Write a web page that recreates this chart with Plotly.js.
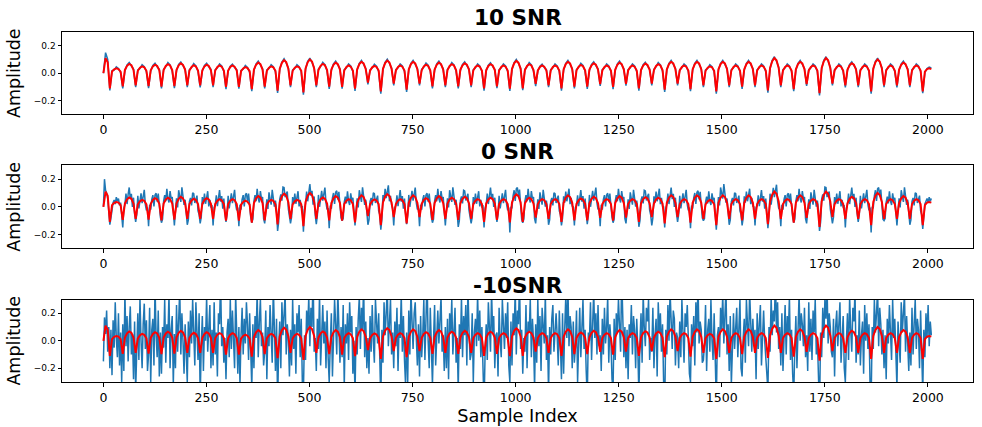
<!DOCTYPE html>
<html>
<head>
<meta charset="utf-8">
<script src="https://cdn.plot.ly/plotly-3.0.1.min.js"></script>
<style>html,body{margin:0;padding:0;background:#fff;}#chart{width:982px;height:427px;}</style>
</head>
<body>
<div id="chart"></div>
<script>
// ---- data ----
const panelTitles = ['10 SNR', '0 SNR', '-10SNR'];
const xTickValues = [0, 250, 500, 750, 1000, 1250, 1500, 1750, 2000];
const yTickValues = [-0.2, 0.0, 0.2];
const cyclePeriod = 31.3;            // samples per cycle of the clean signal
const coarseStep = cyclePeriod / 6;  // sample step of the coarse series
const fineStep = cyclePeriod / 12;   // sample step of the fine series

// clean signal (red), one value every coarseStep samples
const cleanSignal = [
0.0,0.11,0.08,
-0.11,0.012,0.028,0.035,0.03,0.012,
-0.095,0.024,0.054,0.068,0.058,0.024,
-0.088,0.018,0.04,0.05,0.043,0.018,
-0.093,0.022,0.05,0.062,0.053,0.022,
-0.098,0.023,0.053,0.066,0.056,0.023,
-0.093,0.025,0.058,0.072,0.061,0.025,
-0.088,0.02,0.046,0.058,0.049,0.02,
-0.088,0.022,0.05,0.062,0.053,0.022,
-0.088,0.02,0.045,0.056,0.048,0.02,
-0.1,0.02,0.045,0.056,0.048,0.02,
-0.1,0.015,0.035,0.044,0.037,0.015,
-0.115,0.027,0.062,0.078,0.066,0.027,
-0.098,0.018,0.04,0.05,0.043,0.018,
-0.127,0.033,0.076,0.095,0.081,0.033,
-0.088,0.018,0.04,0.05,0.043,0.018,
-0.14,0.035,0.08,0.1,0.085,0.035,
-0.088,0.024,0.054,0.068,0.058,0.024,
-0.098,0.027,0.062,0.078,0.066,0.027,
-0.1,0.02,0.045,0.056,0.048,0.02,
-0.112,0.029,0.066,0.083,0.071,0.029,
-0.068,0.019,0.043,0.054,0.046,0.019,
-0.132,0.032,0.074,0.092,0.078,0.032,
-0.075,0.02,0.045,0.056,0.048,0.02,
-0.12,0.029,0.066,0.083,0.071,0.029,
-0.075,0.022,0.05,0.062,0.053,0.022,
-0.095,0.027,0.062,0.078,0.066,0.027,
-0.088,0.023,0.053,0.066,0.056,0.023,
-0.095,0.026,0.058,0.073,0.062,0.026,
-0.088,0.02,0.045,0.056,0.048,0.02,
-0.11,0.023,0.053,0.066,0.056,0.023,
-0.095,0.02,0.045,0.056,0.048,0.02,
-0.112,0.032,0.072,0.09,0.077,0.032,
-0.11,0.023,0.053,0.066,0.056,0.023,
-0.078,0.02,0.045,0.056,0.048,0.02,
-0.088,0.02,0.045,0.056,0.048,0.02,
-0.11,0.029,0.066,0.083,0.071,0.029,
-0.098,0.021,0.048,0.06,0.051,0.021,
-0.098,0.026,0.058,0.073,0.062,0.026,
-0.08,0.02,0.045,0.056,0.048,0.02,
-0.1,0.027,0.062,0.078,0.066,0.027,
-0.078,0.02,0.045,0.056,0.048,0.02,
-0.11,0.025,0.056,0.07,0.06,0.025,
-0.075,0.023,0.053,0.066,0.056,0.023,
-0.12,0.029,0.066,0.083,0.071,0.029,
-0.075,0.02,0.045,0.056,0.048,0.02,
-0.115,0.029,0.066,0.083,0.071,0.029,
-0.088,0.018,0.04,0.05,0.043,0.018,
-0.132,0.029,0.066,0.083,0.071,0.029,
-0.088,0.02,0.045,0.056,0.048,0.02,
-0.098,0.029,0.066,0.083,0.071,0.029,
-0.088,0.02,0.045,0.056,0.048,0.02,
-0.125,0.039,0.088,0.11,0.094,0.039,
-0.088,0.02,0.045,0.056,0.048,0.02,
-0.115,0.029,0.066,0.083,0.071,0.029,
-0.08,0.02,0.045,0.056,0.048,0.02,
-0.145,0.039,0.088,0.11,0.094,0.039,
-0.075,0.02,0.045,0.056,0.048,0.02,
-0.088,0.026,0.058,0.073,0.062,0.026,
-0.088,0.02,0.045,0.056,0.048,0.02,
-0.132,0.035,0.08,0.1,0.085,0.035,
-0.088,0.02,0.045,0.056,0.048,0.02,
-0.088,0.027,0.062,0.078,0.066,0.027,
-0.088,0.02,0.045,0.056,0.048,0.02,
-0.132,0.012,0.03,0.035,0.03
];

// noisy signal at 10 SNR (blue, top), one value every coarseStep samples
const noisy10 = [
0.0,0.15,0.1,
-0.125,0.018,0.023,0.047,0.035,0.005,
-0.111,0.018,0.06,0.078,0.052,0.03,
-0.101,0.024,0.035,0.062,0.048,0.011,
-0.109,0.016,0.056,0.072,0.047,0.028,
-0.111,0.029,0.048,0.078,0.061,0.016,
-0.109,0.019,0.064,0.082,0.055,0.031,
-0.101,0.026,0.041,0.07,0.054,0.013,
-0.104,0.016,0.056,0.072,0.047,0.028,
-0.101,0.026,0.04,0.068,0.053,0.013,
-0.116,0.014,0.051,0.066,0.042,0.026,
-0.113,0.021,0.03,0.056,0.042,0.008,
-0.131,0.021,0.068,0.088,0.06,0.033,
-0.111,0.024,0.035,0.062,0.048,0.011,
-0.143,0.027,0.082,0.105,0.075,0.039,
-0.101,0.024,0.035,0.062,0.048,0.011,
-0.156,0.029,0.086,0.11,0.079,0.041,
-0.101,0.03,0.049,0.08,0.063,0.017,
-0.114,0.021,0.068,0.088,0.06,0.033,
-0.113,0.026,0.04,0.068,0.053,0.013,
-0.128,0.023,0.072,0.093,0.065,0.035,
-0.081,0.025,0.038,0.066,0.051,0.012,
-0.148,0.026,0.08,0.102,0.072,0.038,
-0.088,0.026,0.04,0.068,0.053,0.013,
-0.136,0.023,0.072,0.093,0.065,0.035,
-0.088,0.028,0.045,0.074,0.058,0.015,
-0.111,0.021,0.068,0.088,0.06,0.033,
-0.101,0.029,0.048,0.078,0.061,0.016,
-0.111,0.02,0.064,0.083,0.056,0.032,
-0.101,0.026,0.04,0.068,0.053,0.013,
-0.126,0.017,0.059,0.076,0.05,0.029,
-0.108,0.026,0.04,0.068,0.053,0.013,
-0.128,0.026,0.078,0.1,0.071,0.038,
-0.123,0.029,0.048,0.078,0.061,0.016,
-0.094,0.014,0.051,0.066,0.042,0.026,
-0.101,0.026,0.04,0.068,0.053,0.013,
-0.126,0.023,0.072,0.093,0.065,0.035,
-0.111,0.027,0.043,0.072,0.056,0.014,
-0.114,0.02,0.064,0.083,0.056,0.032,
-0.093,0.026,0.04,0.068,0.053,0.013,
-0.116,0.021,0.068,0.088,0.06,0.033,
-0.091,0.026,0.04,0.068,0.053,0.013,
-0.126,0.019,0.062,0.08,0.054,0.031,
-0.088,0.029,0.048,0.078,0.061,0.016,
-0.136,0.023,0.072,0.093,0.065,0.035,
-0.088,0.026,0.04,0.068,0.053,0.013,
-0.131,0.023,0.072,0.093,0.065,0.035,
-0.101,0.024,0.035,0.062,0.048,0.011,
-0.148,0.023,0.072,0.093,0.065,0.035,
-0.101,0.026,0.04,0.068,0.053,0.013,
-0.114,0.023,0.072,0.093,0.065,0.035,
-0.101,0.026,0.04,0.068,0.053,0.013,
-0.141,0.033,0.094,0.12,0.088,0.045,
-0.101,0.026,0.04,0.068,0.053,0.013,
-0.131,0.023,0.072,0.093,0.065,0.035,
-0.093,0.026,0.04,0.068,0.053,0.013,
-0.161,0.033,0.094,0.12,0.088,0.045,
-0.088,0.026,0.04,0.068,0.053,0.013,
-0.104,0.02,0.064,0.083,0.056,0.032,
-0.101,0.026,0.04,0.068,0.053,0.013,
-0.148,0.029,0.086,0.11,0.079,0.041,
-0.101,0.026,0.04,0.068,0.053,0.013,
-0.104,0.021,0.068,0.088,0.06,0.033,
-0.101,0.026,0.04,0.068,0.053,0.013,
-0.145,0.006,0.034,0.045,0.038
];

// noisy signal at 0 SNR (blue, middle), one value every fineStep samples
const noisy0 = [
0.0,0.2,0.12,0.1,0.06,-0.04,
-0.13,-0.08,0.0,0.03,0.05,0.02,0.07,0.04,0.06,0.01,0.03,-0.06,
-0.15,-0.01,0.016,0.095,0.02,0.09,0.14,0.056,0.094,-0.001,0.066,-0.05,
-0.11,-0.055,0.08,-0.011,0.06,0.097,0.026,0.073,0.123,0.016,-0.025,-0.005,
-0.14,0.015,-0.02,0.054,0.085,0.002,0.086,0.098,0.038,0.096,-0.01,-0.075,
-0.115,-0.09,0.041,0.085,0.04,0.13,0.06,0.031,0.114,0.059,0.071,-0.085,
-0.135,-0.03,0.061,-0.005,0.12,0.075,0.035,0.141,0.084,0.014,0.051,-0.025,
-0.13,-0.095,0.04,0.064,0.01,0.102,0.096,0.028,0.058,0.081,-0.03,-0.055,
-0.12,-0.075,0.07,0.019,0.095,0.022,0.066,0.113,0.003,0.051,0.0,0.005,
-0.135,-0.005,0.01,0.084,0.005,0.072,0.121,0.038,0.078,-0.014,0.06,-0.045,
-0.11,-0.055,0.08,-0.011,0.06,0.097,0.026,0.073,0.123,0.016,-0.025,-0.005,
-0.14,0.015,-0.02,0.054,0.085,0.002,0.086,0.098,0.038,0.096,-0.01,-0.075,
-0.115,-0.09,0.041,0.085,0.04,0.13,0.06,0.031,0.114,0.059,0.071,-0.085,
-0.12,-0.025,0.055,-0.016,0.105,0.057,0.016,0.123,0.068,0.001,0.045,-0.02,
-0.175,-0.11,0.055,0.09,0.045,0.143,0.14,0.07,0.095,0.11,-0.015,-0.07,
-0.12,-0.075,0.07,0.019,0.095,0.022,0.066,0.113,0.003,0.051,0.0,0.005,
-0.18,-0.02,0.025,0.11,0.04,0.113,0.165,0.08,0.115,0.015,0.075,-0.06,
-0.125,-0.06,0.086,0.0,0.075,0.115,0.045,0.091,0.139,0.029,-0.019,-0.01,
-0.155,0.01,-0.014,0.065,0.1,0.02,0.105,0.116,0.054,0.109,-0.004,-0.08,
-0.1,-0.085,0.035,0.074,0.025,0.112,0.041,0.013,0.098,0.046,0.065,-0.08,
-0.135,-0.03,0.061,-0.005,0.12,0.075,0.035,0.141,0.084,0.014,0.051,-0.025,
-0.13,-0.095,0.04,0.064,0.01,0.102,0.096,0.028,0.058,0.081,-0.03,-0.055,
-0.165,-0.09,0.085,0.045,0.13,0.063,0.11,0.155,0.04,0.08,0.015,-0.01,
-0.135,-0.005,0.01,0.084,0.005,0.072,0.121,0.038,0.078,-0.014,0.06,-0.045,
-0.125,-0.06,0.086,0.0,0.075,0.115,0.045,0.091,0.139,0.029,-0.019,-0.01,
-0.14,0.015,-0.02,0.054,0.085,0.002,0.086,0.098,0.038,0.096,-0.01,-0.075,
-0.115,-0.09,0.041,0.085,0.04,0.13,0.06,0.031,0.114,0.059,0.071,-0.085,
-0.135,-0.03,0.061,-0.005,0.12,0.075,0.035,0.141,0.084,0.014,0.051,-0.025,
-0.145,-0.1,0.046,0.075,0.025,0.12,0.115,0.046,0.074,0.094,-0.024,-0.06,
-0.12,-0.075,0.07,0.019,0.095,0.022,0.066,0.113,0.003,0.051,0.0,0.005,
-0.15,-0.01,0.016,0.095,0.02,0.09,0.14,0.056,0.094,-0.001,0.066,-0.05,
-0.11,-0.055,0.08,-0.011,0.06,0.097,0.026,0.073,0.123,0.016,-0.025,-0.005,
-0.185,0.0,-0.005,0.08,0.12,0.043,0.13,0.14,0.075,0.125,0.005,-0.09,
-0.115,-0.09,0.041,0.085,0.04,0.13,0.06,0.031,0.114,0.059,0.071,-0.085,
-0.12,-0.025,0.055,-0.016,0.105,0.057,0.016,0.123,0.068,0.001,0.045,-0.02,
-0.13,-0.095,0.04,0.064,0.01,0.102,0.096,0.028,0.058,0.081,-0.03,-0.055,
-0.135,-0.08,0.076,0.03,0.11,0.04,0.085,0.131,0.019,0.064,0.006,0.0,
-0.135,-0.005,0.01,0.084,0.005,0.072,0.121,0.038,0.078,-0.014,0.06,-0.045,
-0.125,-0.06,0.086,0.0,0.075,0.115,0.045,0.091,0.139,0.029,-0.019,-0.01,
-0.14,0.015,-0.02,0.054,0.085,0.002,0.086,0.098,0.038,0.096,-0.01,-0.075,
-0.115,-0.09,0.041,0.085,0.04,0.13,0.06,0.031,0.114,0.059,0.071,-0.085,
-0.12,-0.025,0.055,-0.016,0.105,0.057,0.016,0.123,0.068,0.001,0.045,-0.02,
-0.145,-0.1,0.046,0.075,0.025,0.12,0.115,0.046,0.074,0.094,-0.024,-0.06,
-0.135,-0.08,0.076,0.03,0.11,0.04,0.085,0.131,0.019,0.064,0.006,0.0,
-0.15,-0.01,0.016,0.095,0.02,0.09,0.14,0.056,0.094,-0.001,0.066,-0.05,
-0.11,-0.055,0.08,-0.011,0.06,0.097,0.026,0.073,0.123,0.016,-0.025,-0.005,
-0.155,0.01,-0.014,0.065,0.1,0.02,0.105,0.116,0.054,0.109,-0.004,-0.08,
-0.1,-0.085,0.035,0.074,0.025,0.112,0.041,0.013,0.098,0.046,0.065,-0.08,
-0.165,-0.04,0.07,0.01,0.14,0.098,0.06,0.165,0.105,0.03,0.06,-0.035,
-0.13,-0.095,0.04,0.064,0.01,0.102,0.096,0.028,0.058,0.081,-0.03,-0.055,
-0.135,-0.08,0.076,0.03,0.11,0.04,0.085,0.131,0.019,0.064,0.006,0.0,
-0.135,-0.005,0.01,0.084,0.005,0.072,0.121,0.038,0.078,-0.014,0.06,-0.045,
-0.155,-0.07,0.095,0.015,0.095,0.138,0.07,0.115,0.16,0.045,-0.01,-0.02,
-0.14,0.015,-0.02,0.054,0.085,0.002,0.086,0.098,0.038,0.096,-0.01,-0.075,
-0.115,-0.09,0.041,0.085,0.04,0.13,0.06,0.031,0.114,0.059,0.071,-0.085,
-0.12,-0.025,0.055,-0.016,0.105,0.057,0.016,0.123,0.068,0.001,0.045,-0.02,
-0.175,-0.11,0.055,0.09,0.045,0.143,0.14,0.07,0.095,0.11,-0.015,-0.07,
-0.12,-0.075,0.07,0.019,0.095,0.022,0.066,0.113,0.003,0.051,0.0,0.005,
-0.15,-0.01,0.016,0.095,0.02,0.09,0.14,0.056,0.094,-0.001,0.066,-0.05,
-0.11,-0.055,0.08,-0.011,0.06,0.097,0.026,0.073,0.123,0.016,-0.025,-0.005,
-0.185,0.0,-0.005,0.08,0.12,0.043,0.13,0.14,0.075,0.125,0.005,-0.09,
-0.1,-0.085,0.035,0.074,0.025,0.112,0.041,0.013,0.098,0.046,0.065,-0.08,
-0.135,-0.03,0.061,-0.005,0.12,0.075,0.035,0.141,0.084,0.014,0.051,-0.025,
-0.13,-0.095,0.04,0.064,0.01,0.102,0.096,0.028,0.058,0.081,-0.03,-0.055,
-0.16,-0.06,0.02,0.04,0.06,0.03,0.07,0.04,0.06
];

// noisy signal at -10 SNR (blue, bottom), one value every fineStep samples
const noisyMinus10 = [
-0.15,0.17,0.05,0.22,-0.08,0.1,
-0.2,0.08,-0.25,0.15,-0.05,0.28,0.02,-0.12,0.2,-0.18,0.06,-0.3,
0.12,-0.22,0.35,-0.04,0.18,-0.15,0.1,0.25,-0.1,0.05,-0.28,0.14,
-0.36,0.02,0.2,-0.14,0.31,0.0,-0.2,0.12,0.27,-0.06,0.15,-0.22,
-0.1,0.24,-0.3,0.08,0.16,-0.18,0.4,0.04,-0.12,0.22,-0.26,0.06,
-0.24,0.1,-0.05,0.3,-0.16,0.12,0.02,0.34,-0.2,0.08,0.18,-0.32,
0.05,-0.2,0.26,-0.08,0.14,0.38,-0.1,0.2,0.0,-0.24,0.12,-0.06,
-0.3,0.14,-0.12,0.22,-0.02,0.3,0.1,-0.18,0.28,0.04,-0.14,0.2,
-0.42,-0.04,0.18,-0.22,0.1,0.0,0.32,-0.08,0.16,0.26,-0.2,0.08,
-0.18,0.28,-0.1,0.06,-0.26,0.2,0.12,0.45,-0.04,0.1,-0.16,0.02,
-0.28,0.06,0.16,-0.12,0.3,-0.06,0.22,0.0,-0.2,0.34,0.08,-0.24,
0.1,-0.32,0.04,0.24,-0.1,0.16,-0.02,0.28,0.12,-0.14,0.2,-0.08,
-0.34,0.12,-0.2,0.18,0.02,0.36,-0.12,0.14,0.3,-0.04,0.06,-0.18,
-0.08,0.22,-0.28,0.1,-0.04,0.26,0.08,-0.16,0.4,0.0,-0.22,0.16,
-0.46,-0.06,0.14,-0.2,0.28,0.04,0.18,0.34,-0.1,0.12,0.02,-0.26,
0.08,-0.18,0.3,-0.06,0.12,-0.24,0.2,0.06,0.26,-0.12,0.16,-0.3,
-0.38,0.04,-0.14,0.22,0.08,0.32,-0.04,0.24,0.1,0.5,-0.08,0.02,
-0.22,0.16,-0.06,0.34,-0.18,0.1,0.26,-0.02,0.14,-0.2,0.22,-0.12,
-0.3,-0.02,0.2,-0.26,0.06,0.3,0.12,-0.1,0.36,0.04,-0.16,0.1,
-0.12,0.26,-0.34,0.12,-0.02,0.2,-0.14,0.28,0.06,0.18,-0.24,0.0,
-0.4,0.1,-0.1,0.16,0.32,-0.06,0.24,0.08,0.42,-0.12,0.14,-0.2,
0.02,-0.24,0.18,-0.08,0.26,0.0,-0.16,0.3,0.1,-0.02,0.2,-0.28,
-0.44,0.08,-0.16,0.28,0.04,0.2,0.38,-0.04,0.16,0.3,-0.1,0.06,
-0.2,0.14,-0.04,0.24,-0.22,0.12,0.02,0.34,-0.08,0.18,-0.14,-0.32,
0.06,-0.3,0.22,-0.1,0.36,0.08,-0.06,0.2,0.28,0.02,-0.18,0.12,
-0.26,0.18,-0.12,0.04,0.3,-0.14,0.16,0.46,0.0,-0.2,0.24,-0.1,
-0.32,0.0,0.26,-0.18,0.1,0.22,-0.02,0.14,0.32,-0.08,0.04,-0.22,
0.1,-0.2,0.16,-0.28,0.2,0.06,0.3,-0.1,0.12,0.24,-0.16,0.02,
-0.36,0.12,-0.06,0.32,-0.12,0.18,0.04,0.26,-0.18,0.4,0.08,-0.14,
-0.1,0.2,-0.3,0.06,0.16,-0.04,0.34,0.0,0.22,-0.12,0.1,-0.26,
-0.48,-0.08,0.12,-0.14,0.28,0.1,-0.08,0.36,0.06,0.18,-0.2,0.04,
0.06,-0.26,0.24,0.0,-0.12,0.3,0.14,-0.06,0.2,0.02,0.28,-0.18,
-0.3,0.14,-0.18,0.2,0.04,0.38,-0.1,0.22,0.12,0.44,-0.06,0.08,
-0.24,0.02,-0.08,0.26,-0.2,0.14,0.06,0.3,-0.12,0.16,0.0,-0.34,
0.12,-0.16,0.3,-0.04,0.18,-0.22,0.24,0.08,-0.02,0.34,-0.14,0.04,
-0.38,0.1,-0.1,0.16,0.26,-0.08,0.12,0.2,0.04,-0.18,0.22,-0.12,
-0.28,0.2,-0.24,0.08,0.32,0.02,0.4,-0.04,0.18,0.1,-0.2,0.14,
-0.16,-0.04,0.22,-0.3,0.1,0.24,-0.12,0.16,0.3,-0.06,0.08,-0.22,
-0.42,0.06,0.0,0.28,-0.14,0.12,0.36,0.02,0.2,-0.1,0.26,-0.04,
0.04,-0.22,0.16,-0.1,0.24,-0.02,0.1,0.32,-0.16,0.12,0.0,-0.28,
-0.34,0.16,-0.14,0.2,0.06,0.3,0.14,-0.08,0.48,0.04,-0.12,0.1,
-0.2,0.08,-0.28,0.12,0.02,0.26,-0.1,0.18,0.08,-0.2,0.16,-0.06,
-0.4,0.0,0.2,-0.16,0.34,0.1,-0.04,0.24,0.14,0.3,-0.14,0.02,
-0.08,0.24,-0.2,0.04,0.16,-0.26,0.28,0.06,0.2,-0.08,0.12,-0.3,
-0.5,0.08,-0.1,0.26,0.0,0.36,0.12,-0.06,0.22,0.16,-0.18,0.06,
0.02,-0.2,0.14,-0.12,0.3,0.04,-0.16,0.2,0.1,0.26,-0.04,-0.24,
-0.3,0.12,-0.04,0.18,-0.18,0.28,0.06,0.42,-0.02,0.14,0.08,-0.16,
-0.14,-0.02,0.26,-0.22,0.08,0.16,-0.08,0.3,0.0,-0.14,0.2,-0.1,
-0.46,0.04,0.1,-0.12,0.24,0.08,0.34,-0.02,0.18,0.38,-0.1,0.12,
-0.22,0.18,-0.32,0.06,0.2,-0.06,0.14,0.24,-0.12,0.08,0.3,-0.2,
-0.26,0.02,0.16,-0.16,0.3,0.12,-0.04,0.36,0.1,-0.08,0.16,-0.04,
0.08,-0.28,0.2,-0.06,0.12,0.26,-0.18,0.1,0.22,0.0,-0.12,-0.3,
-0.36,0.1,-0.08,0.32,0.04,0.22,0.14,0.46,0.06,0.28,-0.06,0.1,
-0.18,0.2,-0.22,0.02,0.26,-0.1,0.18,0.04,0.32,-0.14,0.08,-0.24,
-0.4,-0.06,0.18,-0.2,0.1,0.34,0.0,0.2,0.12,-0.04,0.24,-0.12,
0.04,-0.22,0.28,-0.08,0.16,-0.14,0.22,0.06,0.3,-0.1,0.02,-0.26,
-0.52,0.06,-0.12,0.24,0.02,0.3,0.16,0.4,-0.02,0.2,0.1,-0.08,
-0.12,0.16,-0.26,0.1,0.22,-0.04,0.12,0.28,-0.16,0.06,0.18,-0.2,
-0.3,0.0,0.2,-0.14,0.32,0.08,-0.08,0.24,0.14,0.36,-0.16,0.04,
-0.1,0.22,-0.18,0.04,0.14,-0.24,0.26,0.0,0.2,-0.06,0.12,-0.32,
-0.44,0.1,-0.06,0.3,0.06,0.2,0.38,-0.04,0.24,0.12,-0.1,0.08,
-0.2,0.04,-0.28,0.16,-0.02,0.26,0.1,-0.14,0.3,0.02,0.16,-0.18,
-0.34,0.14,0.02,-0.16,0.28,0.06,0.2,0.34,-0.08,0.18,-0.02,-0.22,
0.06,-0.18,0.24,-0.1,0.12,0.3,-0.06,0.16,0.08,-0.2,0.22,-0.14,
-0.38,0.08,-0.12,0.2,0.02,0.26,-0.04,0.14,0.04
];

// ---- styling ----
const FONT = 'DejaVu Sans, Liberation Sans, sans-serif';
const BLUE = '#1f77b4';
const RED = '#ff0000';

const noisySeries = [noisy10, noisy0, noisyMinus10];
const noisySteps = [coarseStep, fineStep, fineStep];
const axisIds = ['', '2', '3'];

const traces = [];
noisySeries.forEach((ys, p) => {
  const id = axisIds[p];
  traces.push({type: 'scatter', mode: 'lines', y: ys, x0: 0, dx: noisySteps[p],
    xaxis: 'x' + id, yaxis: 'y' + id, line: {color: BLUE, width: 1.5}, hoverinfo: 'skip'});
  traces.push({type: 'scatter', mode: 'lines', y: cleanSignal, x0: 0, dx: coarseStep,
    xaxis: 'x' + id, yaxis: 'y' + id, line: {color: RED, width: 2}, hoverinfo: 'skip'});
});

const domains = [[0.7644, 1], [0.3822, 0.6189], [0, 0.2356]];
const titleY = [1.0411, 0.66, 0.2767];

function xAxis(p) {
  const a = {
    domain: [0, 1], anchor: 'y' + axisIds[p], range: [-100.45, 2109.45],
    tickmode: 'array', tickvals: xTickValues, ticks: 'outside', ticklen: 3.5, tickwidth: 1, tickcolor: '#000',
    showline: true, mirror: true, linecolor: '#000', linewidth: 1,
    showgrid: false, zeroline: false,
    tickfont: {family: FONT, size: 12.5, color: '#000'}
  };
  if (p === 2) a.title = {text: 'Sample Index', font: {family: FONT, size: 17.7, color: '#000'}, standoff: 6};
  return a;
}
function yAxis(p) {
  return {
    domain: domains[p], anchor: 'x' + axisIds[p], range: [-0.3, 0.3],
    tickmode: 'array', tickvals: yTickValues, tickformat: '.1f',
    ticks: 'outside', ticklen: 3.5, tickwidth: 1, tickcolor: '#000',
    showline: true, mirror: true, linecolor: '#000', linewidth: 1,
    showgrid: false, zeroline: false,
    tickfont: {family: FONT, size: 9, color: '#000'},
    title: {text: 'Amplitude', font: {family: FONT, size: 17.5, color: '#000'}, standoff: 8}
  };
}

const layout = {
  width: 982, height: 427,
  margin: {l: 62.3, r: 8.7, t: 31.7, b: 44.7},
  paper_bgcolor: '#fff', plot_bgcolor: '#fff',
  showlegend: false,
  font: {family: FONT, color: '#000'},
  xaxis: xAxis(0), yaxis: yAxis(0),
  xaxis2: xAxis(1), yaxis2: yAxis(1),
  xaxis3: xAxis(2), yaxis3: yAxis(2),
  annotations: panelTitles.map((t, p) => ({
    text: '<b>' + t + '</b>', xref: 'paper', yref: 'paper', x: 0.5, y: titleY[p],
    xanchor: 'center', yanchor: 'middle', showarrow: false,
    font: {family: FONT, size: 21.6, color: '#000'}
  }))
};

Plotly.newPlot('chart', traces, layout, {staticPlot: true, displayModeBar: false});
</script>
</body>
</html>
